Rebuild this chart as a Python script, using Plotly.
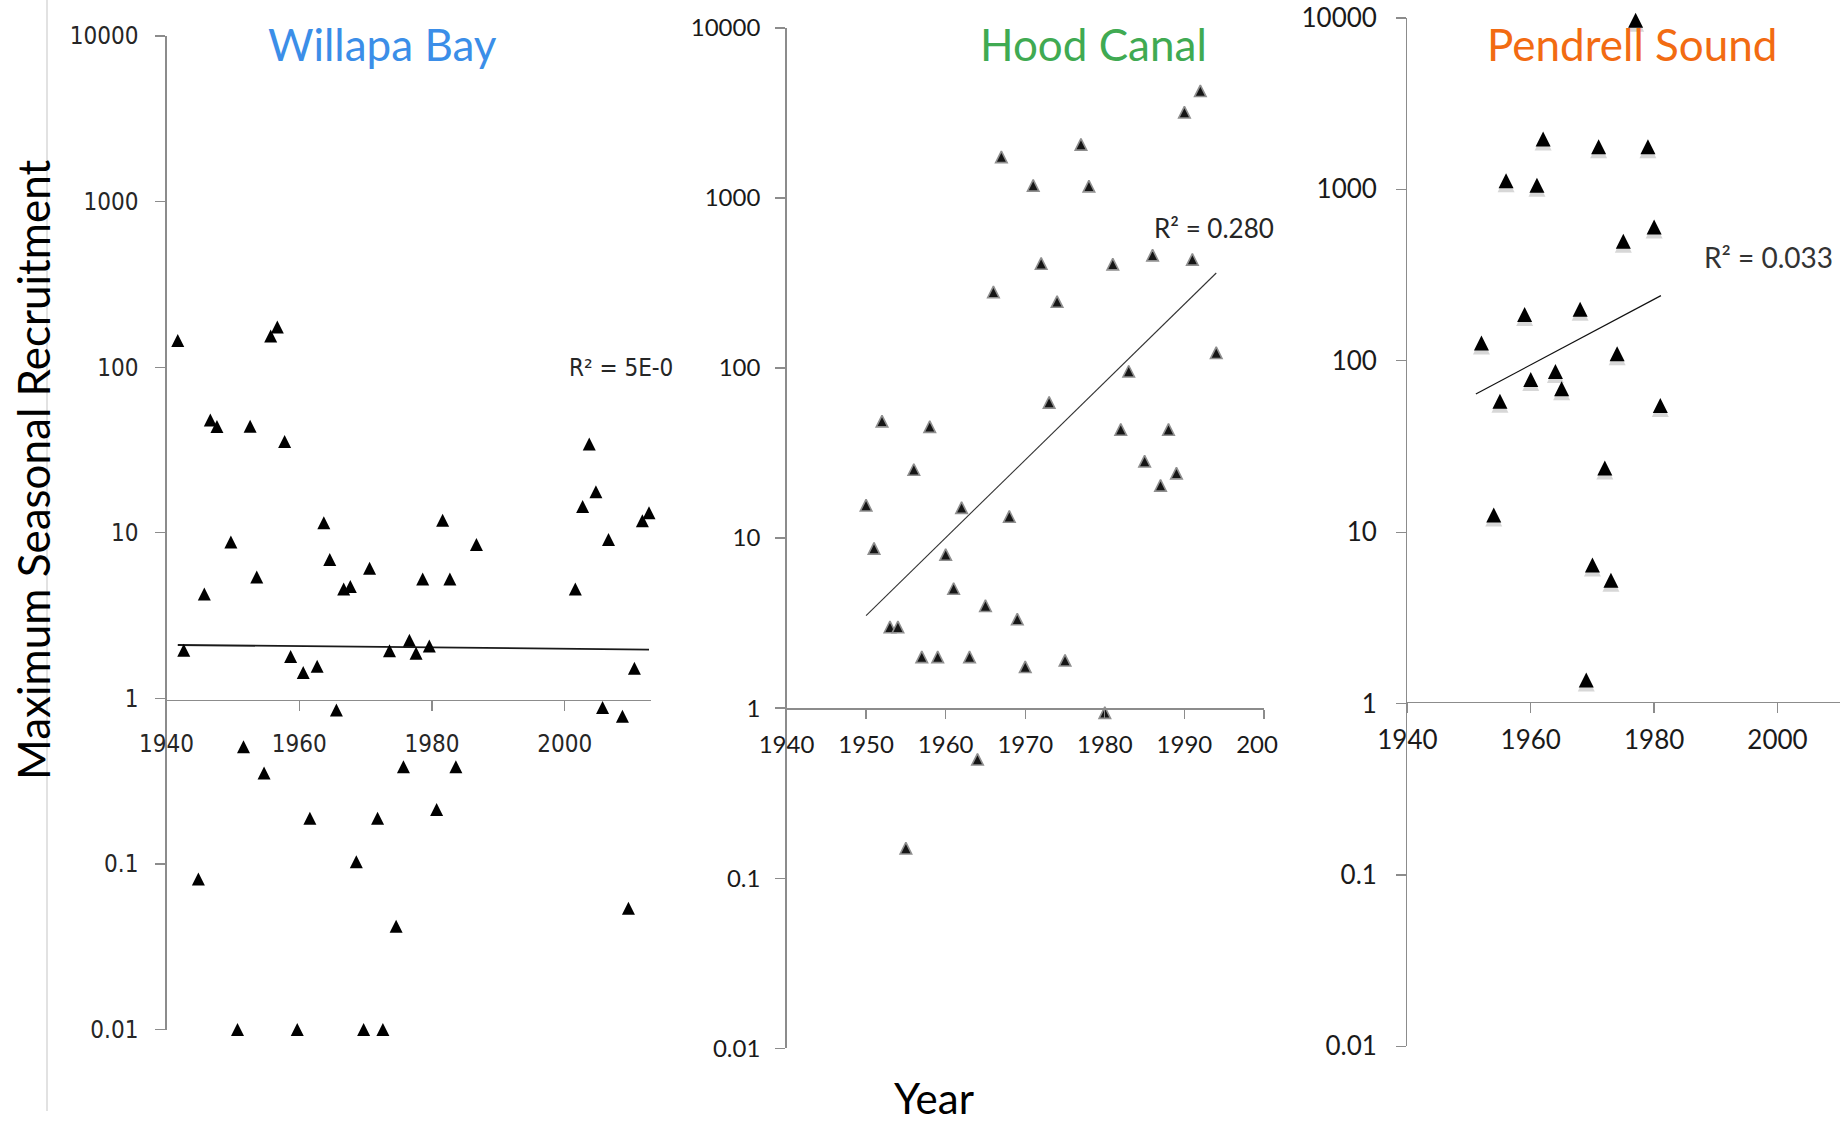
import plotly.graph_objects as go

W, H = 1848, 1126

# ---------------- data ----------------
willapa_years = [1941.7, 1942.6, 1944.8, 1945.7, 1946.6, 1947.6, 1949.7, 1950.7, 1951.6, 1952.6,
                 1953.6, 1954.7, 1955.7, 1956.7, 1957.8, 1958.7, 1959.7, 1960.6, 1961.6, 1962.7,
                 1963.7, 1964.6, 1965.6, 1966.7, 1967.7, 1968.6, 1969.7, 1970.6, 1971.8, 1972.6,
                 1973.6, 1974.6, 1975.7, 1976.6, 1977.6, 1978.6, 1979.6, 1980.7, 1981.6, 1982.7,
                 1983.6, 1986.7, 2001.6, 2002.7, 2003.7, 2004.7, 2005.7, 2006.6, 2008.7, 2009.6,
                 2010.5, 2011.7, 2012.7]
willapa_values = [145, 1.95, 0.081, 4.27, 48, 43.8, 8.8, 0.01, 0.51, 44,
                  5.4, 0.354, 154, 175, 35.6, 1.79, 0.01, 1.43, 0.189, 1.56,
                  11.5, 6.9, 0.85, 4.57, 4.74, 0.103, 0.01, 6.1, 0.189, 0.01,
                  1.94, 0.042, 0.386, 2.24, 1.87, 5.25, 2.07, 0.213, 11.9, 5.25,
                  0.386, 8.5, 4.57, 14.4, 34.4, 17.7, 0.88, 9.1, 0.78, 0.054,
                  1.52, 11.8, 13.2]
willapa_trend_years = [1941.7, 2012.7]
willapa_trend_values = [2.1, 1.97]

hood_years = [1950, 1951, 1952, 1953, 1954, 1955, 1956, 1957, 1958, 1959,
              1960, 1961, 1962, 1963, 1964, 1965, 1966, 1967, 1968, 1969,
              1970, 1971, 1972, 1973, 1974, 1975, 1977, 1978, 1980, 1981,
              1982, 1983, 1985, 1986, 1987, 1988, 1989, 1990, 1991, 1992, 1994]
hood_values = [15.6, 8.7, 48.7, 3.0, 3.0, 0.15, 25.3, 2.0, 45.2, 2.0,
               8.0, 5.05, 15.1, 2.0, 0.50, 4.0, 280, 1745, 13.4, 3.34,
               1.75, 1185, 412, 62.8, 246, 1.91, 2066, 1173, 0.94, 408,
               43.5, 95.7, 28.3, 461, 20.4, 43.5, 24.1, 3193, 435, 4266, 123]
hood_trend_years = [1950, 1994]
hood_trend_values = [3.5, 362]

pendrell_years = [1952, 1954, 1955, 1956, 1959, 1960, 1961, 1962, 1964, 1965, 1968,
                  1969, 1970, 1971, 1972, 1973, 1974, 1975, 1977, 1979, 1980, 1981]
pendrell_values = [127, 12.6, 58, 1124, 186, 77.8, 1057, 1969, 86.5, 68.7, 200,
                   1.37, 6.43, 1774, 23.7, 5.24, 110, 498, 9700, 1774, 603, 54.8]
pendrell_trend_years = [1951.1, 1981.1]
pendrell_trend_values = [64, 240]

y_tickvals = [0.01, 0.1, 1, 10, 100, 1000, 10000]
y_ticktext = ["0.01", "0.1", "1", "10", "100", "1000", "10000"]
willapa_xticks = [1940, 1960, 1980, 2000]
willapa_xticktext = ["1940", "1960", "1980", "2000"]
hood_xticks = [1940, 1950, 1960, 1970, 1980, 1990, 2000]
hood_xticktext = ["1940", "1950", "1960", "1970", "1980", "1990", "200\u2007"]
pendrell_xticks = [1940, 1960, 1980, 2000]
pendrell_xticktext = ["1940", "1960", "1980", "2000"]

titles = ["Willapa Bay", "Hood Canal", "Pendrell Sound"]
r2_labels = ["R\u00b2 = 5E-0", "R\u00b2 = 0.280", "R\u00b2 = 0.033"]

# ---------------- styling ----------------
NARROW = "Liberation Sans Narrow, DejaVu Sans Condensed, sans-serif"
CAL = "Lato, Carlito, Calibri, Open Sans, sans-serif"


def px_x(p):
    return p / W


def px_y(p):
    return 1 - p / H


def tri(size, color, line_color=None, line_width=0, shift=0):
    # upward triangle, as tall as it is wide, centred on the data point
    return dict(symbol="arrow-down", angle=180, size=size, standoff=size / 2 - shift,
                color=color, line=dict(color=line_color or color, width=line_width))


fig = go.Figure()

# Willapa Bay
fig.add_trace(go.Scatter(x=willapa_trend_years, y=willapa_trend_values, mode="lines",
                         line=dict(color="#1a1a1a", width=1.8), xaxis="x", yaxis="y",
                         hoverinfo="skip"))
fig.add_trace(go.Scatter(x=willapa_years, y=willapa_values, mode="markers",
                         marker=tri(13, "#000000"), cliponaxis=False, xaxis="x", yaxis="y"))

# Hood Canal
fig.add_trace(go.Scatter(x=hood_trend_years, y=hood_trend_values, mode="lines",
                         line=dict(color="#333333", width=1.1), xaxis="x2", yaxis="y2",
                         hoverinfo="skip"))
fig.add_trace(go.Scatter(x=hood_years, y=hood_values, mode="markers",
                         marker=tri(11.5, "#161616", "#8f8f8f", 1.6),
                         cliponaxis=False, xaxis="x2", yaxis="y2"))

# Pendrell Sound
fig.add_trace(go.Scatter(x=pendrell_trend_years, y=pendrell_trend_values, mode="lines",
                         line=dict(color="#111111", width=1.2), xaxis="x3", yaxis="y3",
                         hoverinfo="skip"))
fig.add_trace(go.Scatter(x=pendrell_years, y=pendrell_values, mode="markers",
                         marker=tri(17, "rgba(110,110,110,0.28)", shift=3),
                         cliponaxis=False, xaxis="x3", yaxis="y3", hoverinfo="skip"))
fig.add_trace(go.Scatter(x=pendrell_years, y=pendrell_values, mode="markers",
                         marker=tri(15, "#000000"), cliponaxis=False, xaxis="x3", yaxis="y3"))


def xax(domain, rng, pos, tickvals, ticktext, font, standoff, ticklen):
    return dict(domain=domain, range=rng, anchor="free", position=pos,
                showline=True, linecolor="#8c8c8c", linewidth=1.3,
                ticks="outside", ticklen=ticklen, tickcolor="#8c8c8c", tickwidth=1.3,
                tickvals=tickvals, ticktext=ticktext, tickfont=font,
                ticklabelstandoff=standoff, automargin=False, ticklabeloverflow="allow",
                showgrid=False, zeroline=False, fixedrange=True)


def yax(domain, anchor, font, standoff):
    return dict(domain=domain, type="log", range=[-2, 4], anchor=anchor,
                showline=True, linecolor="#8c8c8c", linewidth=1.3,
                ticks="outside", ticklen=10, tickcolor="#8c8c8c", tickwidth=1.3,
                tickvals=y_tickvals, ticktext=y_ticktext, tickfont=font,
                ticklabelstandoff=standoff, automargin=False, ticklabeloverflow="allow",
                showgrid=False, zeroline=False, fixedrange=True)


f1 = dict(family=NARROW, size=24, color="#262626")
f2 = dict(family=CAL, size=24, color="#1a1a1a")
f3 = dict(family=CAL, size=26, color="#1a1a1a")

fig.update_layout(
    width=W, height=H, autosize=False,
    margin=dict(l=0, r=0, t=0, b=0, pad=0, autoexpand=False),
    paper_bgcolor="white", plot_bgcolor="white",
    showlegend=False,
    xaxis=xax([px_x(166.5), px_x(651)], [1940, 2013], px_y(699.6),
              willapa_xticks, willapa_xticktext, f1, 12, 10),
    yaxis=yax([px_y(1029.5), px_y(36)], "x", f1, 12),
    xaxis2=xax([px_x(786.5), px_x(1264)], [1940, 2000], px_y(708.2),
               hood_xticks, hood_xticktext, f2, 6, 9),
    yaxis2=yax([px_y(1048.2), px_y(27.9)], "x2", f2, 10),
    xaxis3=xax([px_x(1407.4), px_x(1839.8)], [1940, 2010.1], px_y(701.8),
               pendrell_xticks, pendrell_xticktext, f3, 5, 10),
    yaxis3=yax([px_y(1046.3), px_y(18)], "x3", f3, 14),
)

annotations = [
    dict(text=titles[0], x=px_x(382.5), y=px_y(44.5), font=dict(family=CAL, size=44, color="#3b8ee8")),
    dict(text=titles[1], x=px_x(1093.5), y=px_y(44.5), font=dict(family=CAL, size=44, color="#40aa52")),
    dict(text=titles[2], x=px_x(1632), y=px_y(44.5), font=dict(family=CAL, size=44, color="#f26b12")),
    dict(text=r2_labels[0], x=px_x(621), y=px_y(368), font=dict(family=NARROW, size=24, color="#262626")),
    dict(text=r2_labels[1], x=px_x(1214), y=px_y(228), font=dict(family=CAL, size=26, color="#262626")),
    dict(text=r2_labels[2], x=px_x(1768), y=px_y(257), font=dict(family=CAL, size=28, color="#333333")),
    dict(text="Maximum Seasonal Recruitment", x=px_x(33), y=px_y(470), textangle=-90,
         font=dict(family=CAL, size=44, color="#000000")),
    dict(text="Year", x=px_x(933.5), y=px_y(1098), font=dict(family=CAL, size=42, color="#000000")),
]
for a in annotations:
    a.update(xref="paper", yref="paper", showarrow=False, xanchor="center", yanchor="middle")
fig.update_layout(annotations=annotations)

fig.add_shape(type="line", xref="paper", yref="paper", x0=px_x(47), x1=px_x(47),
              y0=px_y(1111), y1=1, line=dict(color="#cfcfcf", width=1.2))

# remove the browser's default page margin so the figure fills the window exactly
fig.write_html("out.html",
               config={"displayModeBar": False, "staticPlot": True},
               post_script="document.body.style.margin='0px';document.body.style.overflow='hidden';")
